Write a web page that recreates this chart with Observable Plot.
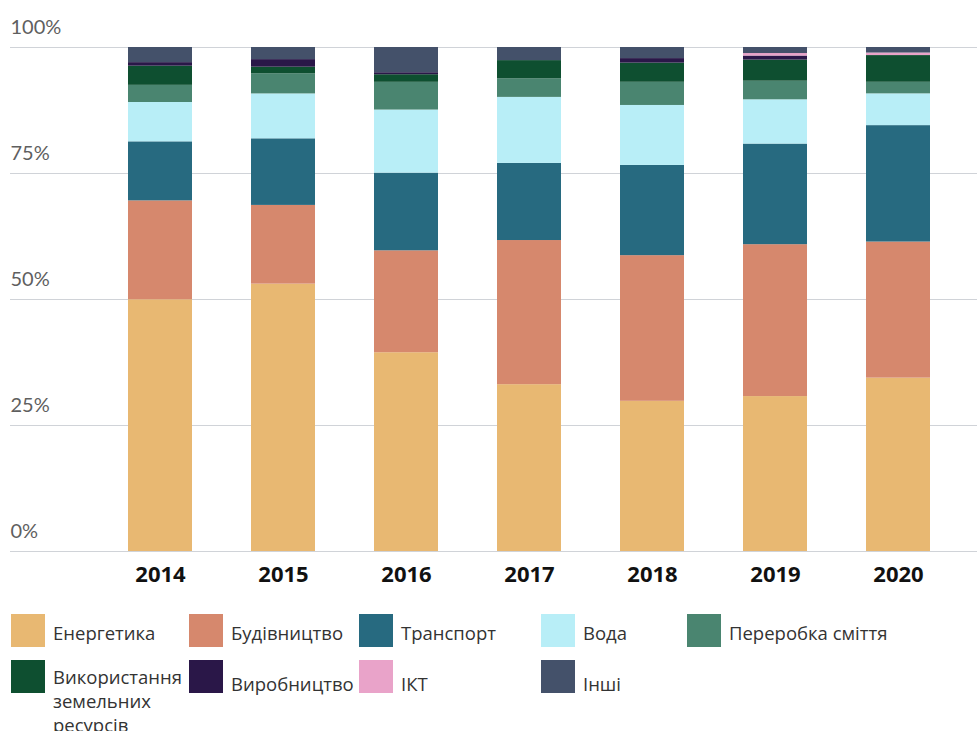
<!DOCTYPE html>
<html><head><meta charset="utf-8">
<script src="https://cdn.jsdelivr.net/npm/d3@7"></script>
<script src="https://cdn.jsdelivr.net/npm/@observablehq/plot@0.6"></script>
<style>
body{margin:0;background:#fff;font-family:"Open Sans",sans-serif;}
#legend{display:grid;grid-template-columns:178px 170px 182px 146px auto;row-gap:13px;padding-left:11px;margin-top:22px;color:#333;font-size:18.5px;}
.item{display:flex;align-items:flex-start;}
.sw{width:34px;height:33px;flex:none;margin-right:8px;}
.lab{line-height:24px;padding-top:7px;white-space:nowrap;}
.lab.r2{padding-top:12px;}
.lab.wrap{white-space:normal;max-width:132px;padding-top:5px;}
</style></head><body>
<div id="chart"></div>
<div id="legend"></div>
<script>
const years = ["2014","2015","2016","2017","2018","2019","2020"];
const categories = ["Енергетика","Будівництво","Транспорт","Вода","Переробка сміття","Використання земельних ресурсів","Виробництво","ІКТ","Інші"];
const colors = ["#E8B872","#D6886D","#276A80","#B8EEF7","#4A8570","#0E4F30","#2A1748","#E9A3C9","#44516A"];
const energy        = [49.9, 53.0, 39.4, 33.1, 29.8, 30.8, 34.4];
const construction  = [19.6, 15.6, 20.2, 28.6, 28.9, 30.2, 27.0];
const transport     = [11.7, 13.2, 15.4, 15.3, 17.9, 20.0, 23.1];
const water         = [7.8, 8.9, 12.5, 13.1, 11.9, 8.8, 6.3];
const waste         = [3.4, 4.0, 5.5, 3.7, 4.6, 3.7, 2.3];
const landUse       = [3.8, 1.3, 1.5, 3.6, 3.8, 4.2, 5.3];
const manufacturing = [0.7, 1.5, 0.4, 0, 0.9, 0.8, 0];
const ict           = [0, 0, 0, 0, 0, 0.5, 0.5];
const others        = [3.0, 2.4, 5.0, 2.6, 2.2, 1.2, 1.1];
const yTicks = [0, 0.25, 0.5, 0.75, 1];
const yTickLabels = ["0%","25%","50%","75%","100%"];

const series = [energy, construction, transport, water, waste, landUse, manufacturing, ict, others];
const rows = [];
series.forEach((vals, i) => vals.forEach((v, j) => rows.push({year: years[j], cat: categories[i], value: v})));

const chart = Plot.plot({
  width: 977,
  height: 592,
  marginTop: 47,
  marginBottom: 41,
  marginLeft: 10,
  marginRight: 0,
  x: {domain: years, range: [98.5, 959.5], paddingInner: 0.48, paddingOuter: 0.24, axis: null},
  y: {domain: [0, 1], axis: null},
  color: {domain: categories, range: colors},
  marks: [
    Plot.ruleY(yTicks, {stroke: "#d0d3d8", strokeWidth: 1.2}),
    Plot.barY(rows, {x: "year", y: "value", fill: "cat", offset: "normalize", order: categories}),
    Plot.text(yTicks, {y: d => d, text: (d, i) => yTickLabels[i], frameAnchor: "left", textAnchor: "start", dy: -20, fill: "#5f5f5f", fontSize: 20, fontFamily: "Lato", fontWeight: 400}),
    Plot.text(years, {x: d => d, text: d => d, frameAnchor: "bottom", dy: 30, fill: "#111", fontSize: 22, fontWeight: "bold", fontFamily: "Open Sans"})
  ]
});
document.getElementById("chart").appendChild(chart);

const legend = document.getElementById("legend");
categories.forEach((c, i) => {
  const it = document.createElement("div");
  it.className = "item";
  if (i === 5) it.style.gridColumn = "1";
  const cls = i === 5 ? "lab wrap" : (i > 5 ? "lab r2" : "lab");
  it.innerHTML = `<div class="sw" style="background:${colors[i]}"></div><div class="${cls}">${c}</div>`;
  legend.appendChild(it);
});
</script>
</body></html>
